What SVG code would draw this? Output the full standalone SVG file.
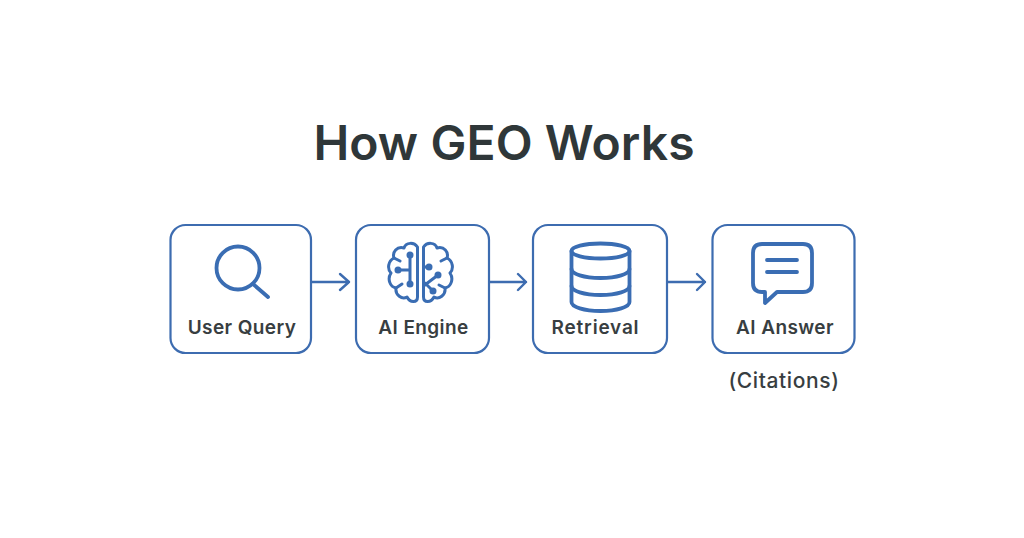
<svg xmlns="http://www.w3.org/2000/svg" width="1024" height="538" viewBox="0 0 1024 538">
<style>
.box{fill:#fff;stroke:#3d6cb0;stroke-width:2.2}
.ic{fill:none;stroke:#3a6db3;stroke-width:3.8;stroke-linecap:round;stroke-linejoin:round}
.br{fill:none;stroke:#3a6db3;stroke-width:3;stroke-linecap:round;stroke-linejoin:round}
.dot{fill:#3a6db3}
.lb{font-family:Inter,"Liberation Sans",sans-serif;font-weight:600;font-size:19px;letter-spacing:.4px;fill:#383e41;text-anchor:middle}
.ln{fill:none;stroke:#3d6cb0;stroke-width:2.4;stroke-linecap:round;stroke-linejoin:round}
</style>
<rect width="1024" height="538" fill="#fff"/>
<text id="title" x="504" y="160" style="font-family:Inter,'Liberation Sans',sans-serif;font-weight:600;font-size:48px;letter-spacing:.1px;fill:#2f3739;text-anchor:middle">How GEO Works</text>
<g id="connectors">
<path class="ln" d="M312 282H349M340 274l9 8l-9 8"/>
<path class="ln" d="M490 282H526M518 274l8 8l-8 8"/>
<path class="ln" d="M668 282H705M697 274l8 8l-8 8"/>
</g>
<g id="user-query">
<rect class="box" x="170.500" y="225" width="140.500" height="128" rx="15"/>
<circle class="ic" cx="238" cy="268" r="21.500"/>
<path class="ic" d="M253 284L268 297"/>
<text class="lb" x="242" y="334">User Query</text>
</g>
<g id="ai-engine">
<rect class="box" x="356" y="225" width="133" height="128" rx="15"/>
<path class="br" d="M417.500 247C414 242 406 242 404 248C397 246 392 252 394 258C388 261 387 269 391 273C387 279 390 287 396 288C395 295 402 300 407 297C410 303 417.500 303 417.500 297Z"/>
<path class="br" d="M423.500 247C427 242 435 242 437 248C444 246 449 252 447 258C453 261 454 269 450 273C454 279 451 287 445 288C446 295 439 300 434 297C431 303 423.500 303 423.500 297Z"/>
<path class="br" d="M410 255V284M398 270H410M394 258L400 261M396 288L402 284"/>
<path class="br" d="M423.500 267H429M423.500 286L438 275M425 283L433 291M447 258L441 261M445 288L439 285"/>
<circle class="dot" cx="410" cy="255" r="3.500"/><circle class="dot" cx="398" cy="270" r="3.500"/><circle class="dot" cx="410" cy="284" r="3.500"/>
<circle class="dot" cx="429" cy="267" r="3.500"/><circle class="dot" cx="438" cy="275" r="3.500"/><circle class="dot" cx="433" cy="291" r="3.500"/>
<text class="lb" x="423.500" y="334">AI Engine</text>
</g>
<g id="retrieval">
<rect class="box" x="533" y="225" width="134" height="128" rx="15"/>
<ellipse class="ic" cx="600.500" cy="251" rx="29" ry="7.500"/>
<path class="ic" d="M571.500 251V269C571.500 274 584 278 600.500 278C617 278 629.500 274 629.500 269V251"/>
<path class="ic" d="M571.500 269V286C571.500 291 584 295 600.500 295C617 295 629.500 291 629.500 286V269"/>
<path class="ic" d="M571.500 286V302C571.500 307 584 311 600.500 311C617 311 629.500 307 629.500 302V286"/>
<text class="lb" x="595.500" y="334" style="letter-spacing:.8px">Retrieval</text>
</g>
<g id="ai-answer">
<rect class="box" x="712.500" y="225" width="142" height="128" rx="15"/>
<path class="ic" d="M762 244H803Q812 244 812 253V283Q812 292 803 292H777L765 303V292H762Q753 292 753 283V253Q753 244 762 244Z"/>
<path class="ic" d="M767 260H797M767 272H797"/>
<text class="lb" x="785" y="334">AI Answer</text>
<text class="lb" x="784" y="388" style="font-weight:500;font-size:21px;letter-spacing:.6px">(Citations)</text>
</g>
</svg>
